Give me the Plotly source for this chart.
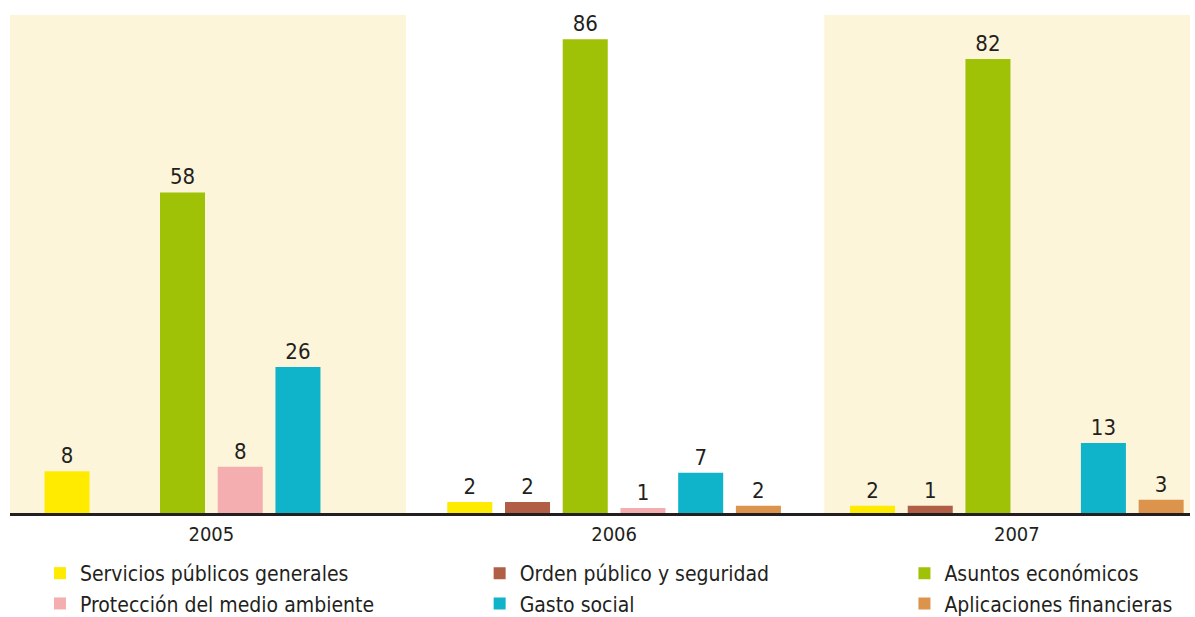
import plotly.graph_objects as go

years = ["2005", "2006", "2007"]
series = ["Servicios públicos generales", "Orden público y seguridad", "Asuntos económicos",
          "Protección del medio ambiente", "Gasto social", "Aplicaciones financieras"]
colors = ["#FFEB00", "#B15E47", "#A0C206", "#F4AEB0", "#10B4CA", "#DC944C"]

servicios = [7.6, 2.0, 1.3]
orden = [None, 2.0, 1.3]
asuntos = [58.2, 86.0, 82.4]
proteccion = [8.4, 0.9, None]
gasto = [26.5, 7.3, 12.7]
aplicaciones = [None, 1.3, 2.4]

servicios_lbl = ["8", "2", "2"]
orden_lbl = ["", "2", "1"]
asuntos_lbl = ["58", "86", "82"]
proteccion_lbl = ["8", "1", ""]
gasto_lbl = ["26", "7", "13"]
aplicaciones_lbl = ["", "2", "3"]

values = [servicios, orden, asuntos, proteccion, gasto, aplicaciones]
labels = [servicios_lbl, orden_lbl, asuntos_lbl, proteccion_lbl, gasto_lbl, aplicaciones_lbl]
# legend column for each series (3 columns, 2 rows)
legend_ids = ["legend", "legend2", "legend3", "legend", "legend2", "legend3"]

FONT = "Liberation Sans Narrow, DejaVu Sans Condensed, Arial Narrow, sans-serif"

fig = go.Figure()
for name, vals, lbls, col, lg in zip(series, values, labels, colors, legend_ids):
    fig.add_trace(go.Bar(
        x=years, y=vals, name=name, marker=dict(color=col, line=dict(width=0)),
        text=lbls, textposition="outside", cliponaxis=False,
        textfont=dict(family=FONT, size=22, color="#231F20"),
        legend=lg,
    ))

legend_common = dict(orientation="v", xanchor="left", y=-0.0803, yanchor="top",
                     font=dict(family=FONT, size=21, color="#231F20"),
                     bgcolor="rgba(0,0,0,0)", tracegroupgap=0, borderwidth=0)

fig.update_layout(
    width=1195, height=617,
    margin=dict(l=10, r=5, t=15, b=104, autoexpand=False),
    paper_bgcolor="white", plot_bgcolor="white",
    barmode="group", bargap=0.14, bargroupgap=0.22,
    font=dict(family=FONT, color="#231F20"),
    shapes=[
        dict(type="rect", xref="x", yref="paper", x0=-0.5, x1=0.483, y0=0, y1=1,
             fillcolor="#FDF5DA", line=dict(width=0), layer="below"),
        dict(type="rect", xref="x", yref="paper", x0=1.522, x1=2.43, y0=0, y1=1,
             fillcolor="#FDF5DA", line=dict(width=0), layer="below"),
    ],
    xaxis=dict(range=[-0.5, 2.43], showgrid=False, showline=True, linecolor="#231F20",
               linewidth=2.5, ticks="", tickfont=dict(family=FONT, size=20, color="#231F20"),
               ticklabelstandoff=1, type="category"),
    yaxis=dict(range=[0, 90.4], visible=False),
    legend=dict(x=0.0254, **legend_common),
    legend2=dict(x=0.398, **legend_common),
    legend3=dict(x=0.758, **legend_common),
    showlegend=True,
)

fig.write_html("out.html", config={"displayModeBar": False},
               post_script="document.body.style.margin='0';document.body.style.overflow='hidden';")
